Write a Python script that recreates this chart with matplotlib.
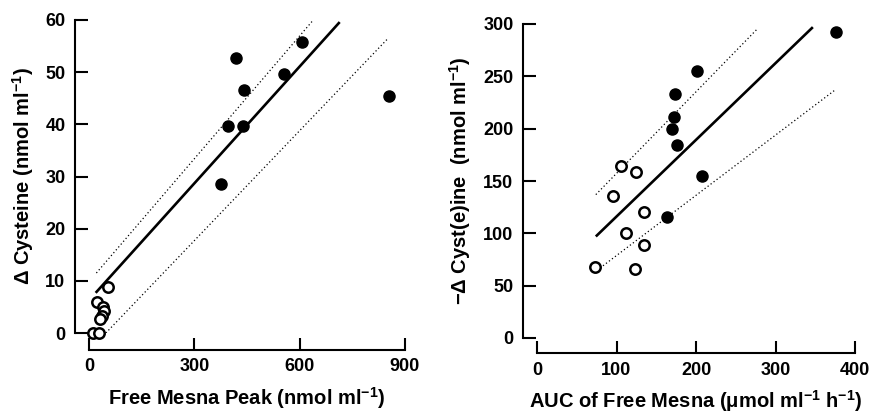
import matplotlib
matplotlib.use("Agg")
import matplotlib.pyplot as plt

plt.rcParams["font.family"] = ["Liberation Sans", "DejaVu Sans"]
plt.rcParams["font.weight"] = "bold"
plt.rcParams["axes.labelweight"] = "bold"
plt.rcParams["mathtext.fontset"] = "custom"
plt.rcParams["mathtext.rm"] = "Liberation Sans:bold"
plt.rcParams["mathtext.it"] = "Liberation Sans:bold"
plt.rcParams["mathtext.bf"] = "Liberation Sans:bold"
plt.rcParams["mathtext.default"] = "rm"

# left panel: free mesna peak vs delta cysteine
peak_filled_x = [419, 607, 555, 441, 395, 438, 376, 854]
peak_filled_y = [52.8, 55.7, 49.6, 46.6, 39.6, 39.6, 28.6, 45.4]
peak_open_x = [54, 23, 40, 42, 38, 30, 11, 28]
peak_open_y = [8.8, 5.9, 5.0, 4.2, 3.3, 2.6, 0.0, 0.0]
peak_fit_x = [19, 714]
peak_fit_y = [7.7, 59.6]
peak_upper_x = [21, 635]
peak_upper_y = [11.5, 59.7]
peak_lower_x = [48, 852]
peak_lower_y = [0.0, 56.5]

# right panel: AUC of free mesna vs -delta cyst(e)ine
auc_filled_x = [376, 201, 174, 172, 170, 176, 207, 163]
auc_filled_y = [292, 255, 233, 211, 200, 184, 155, 116]
auc_open_x = [106, 125, 95, 134, 112, 134, 73, 123]
auc_open_y = [164, 159, 136, 120, 100, 89, 68, 66]
auc_fit_x = [74, 347]
auc_fit_y = [97, 297]
auc_upper_x = [74, 278]
auc_upper_y = [137, 296]
auc_lower_x = [83, 375]
auc_lower_y = [69, 237]

W, H = 877, 416
fig = plt.figure(figsize=(W / 100, H / 100), dpi=100)


def panel(rect, fx, fy, ox, oy, fit, upper, lower, xlim, ylim, xticks, yticks,
          xlabel, ylabel, left_off, bottom_off):
    ax = fig.add_axes(rect)
    ax.set_xlim(*xlim)
    ax.set_ylim(*ylim)
    ax.plot(*fit, color="black", lw=1.9, solid_capstyle="butt")
    ax.plot(*upper, color="black", lw=0.9, ls=(0, (1, 2)))
    ax.plot(*lower, color="black", lw=0.9, ls=(0, (1, 2)))
    ax.plot(fx, fy, "o", color="black", ms=8, clip_on=False)
    ax.plot(ox, oy, "o", mfc="white", mec="black", mew=1.8, ms=7.5, clip_on=False)
    for side in ["top", "right"]:
        ax.spines[side].set_visible(False)
    ax.spines["left"].set_position(("outward", left_off))
    ax.spines["bottom"].set_position(("outward", bottom_off))
    ax.spines["left"].set_bounds(yticks[0], yticks[-1])
    ax.spines["bottom"].set_bounds(xticks[0], xticks[-1])
    for s in ["left", "bottom"]:
        ax.spines[s].set_linewidth(1.5)
    ax.set_xticks(xticks)
    ax.set_yticks(yticks)
    ax.tick_params(direction="in", length=9, width=1.5, labelsize=13, pad=6)
    ax.tick_params(axis="y", pad=7)
    ax.set_xlabel(xlabel, fontsize=14.5, labelpad=7)
    ax.set_ylabel(ylabel, fontsize=14.5, labelpad=7)
    ax.set_facecolor("none")
    return ax


panel([89 / W, 1 - 333 / H, 316 / W, 313 / H],
      peak_filled_x, peak_filled_y, peak_open_x, peak_open_y,
      (peak_fit_x, peak_fit_y), (peak_upper_x, peak_upper_y), (peak_lower_x, peak_lower_y),
      (0, 900), (0, 60), [0, 300, 600, 900], [0, 10, 20, 30, 40, 50, 60],
      r"Free Mesna Peak (nmol ml$^{-1}$)", r"$\Delta$ Cysteine (nmol ml$^{-1}$)", 10, 12)

panel([537 / W, 1 - 338 / H, 318 / W, 314 / H],
      auc_filled_x, auc_filled_y, auc_open_x, auc_open_y,
      (auc_fit_x, auc_fit_y), (auc_upper_x, auc_upper_y), (auc_lower_x, auc_lower_y),
      (0, 400), (0, 300), [0, 100, 200, 300, 400], [0, 50, 100, 150, 200, 250, 300],
      r"AUC of Free Mesna ($\mu$mol ml$^{-1}$ h$^{-1}$)",
      r"$-\Delta$ Cyst(e)ine  (nmol ml$^{-1}$)", 10, 11)

fig.savefig("out.png", dpi=100)
